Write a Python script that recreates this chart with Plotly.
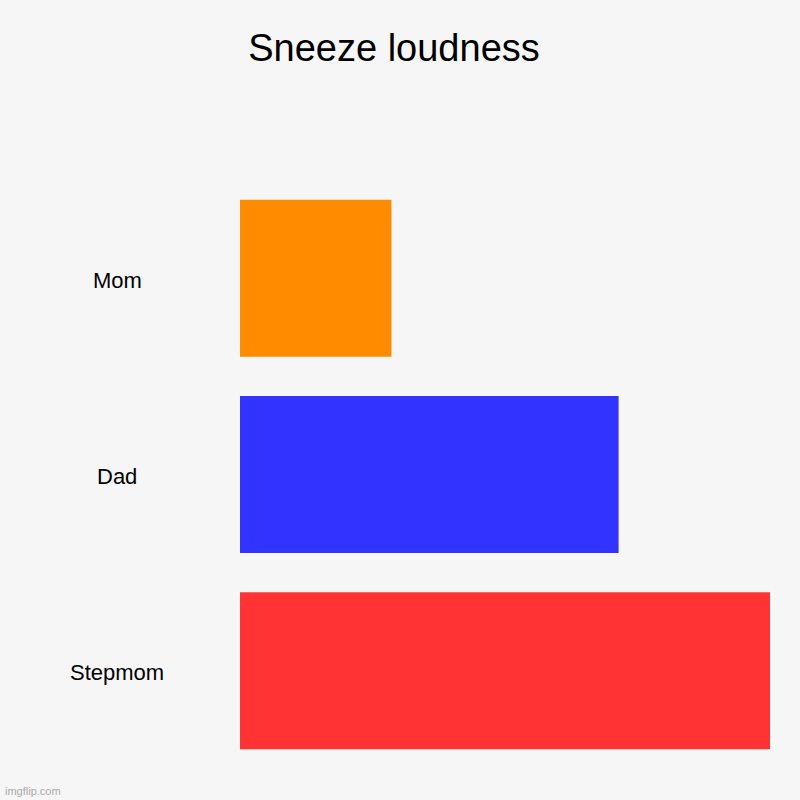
import plotly.graph_objects as go

# data
names = ["Mom", "Dad", "Stepmom"]
loudness = [2, 5, 7]
bar_colors = ["#ff8c00", "#3333ff", "#ff3333"]

fig = go.Figure(
    go.Bar(
        x=loudness,
        y=names,
        orientation="h",
        marker=dict(color=bar_colors, line=dict(width=0)),
        hoverinfo="x+y",
    )
)

# category labels, centred in the left margin
label_notes = [
    dict(
        xref="paper", yref="y", x=-0.232, y=n, text=n, showarrow=False,
        xanchor="center", yanchor="middle", yshift=-2,
        font=dict(size=22, color="#000000"),
    )
    for n in names
]

fig.update_layout(
    width=800,
    height=800,
    paper_bgcolor="#f6f6f6",
    plot_bgcolor="#f6f6f6",
    font=dict(family="Liberation Sans, Arial, sans-serif", color="#000000"),
    margin=dict(l=240, r=30, t=180, b=31),
    title=dict(
        text="Sneeze loudness",
        x=0.4925, xanchor="center",
        y=1 - 48 / 800, yanchor="middle",
        font=dict(size=38, color="#000000"),
    ),
    bargap=0.2,
    showlegend=False,
    xaxis=dict(range=[0, 7], visible=False, showgrid=False, zeroline=False),
    yaxis=dict(
        autorange="reversed", showticklabels=False, showgrid=False,
        zeroline=False, ticks="",
    ),
    annotations=label_notes + [
        dict(
            xref="paper", yref="paper", x=-0.447, y=-0.037, text="imgflip.com",
            showarrow=False, xanchor="left", yanchor="middle",
            font=dict(size=11, color="#aaaaaa"),
        )
    ],
)

# drop the default page margin so the figure fills the window
fig.write_html(
    "out.html",
    config={"displayModeBar": False},
    post_script="document.body.style.margin='0';",
)
